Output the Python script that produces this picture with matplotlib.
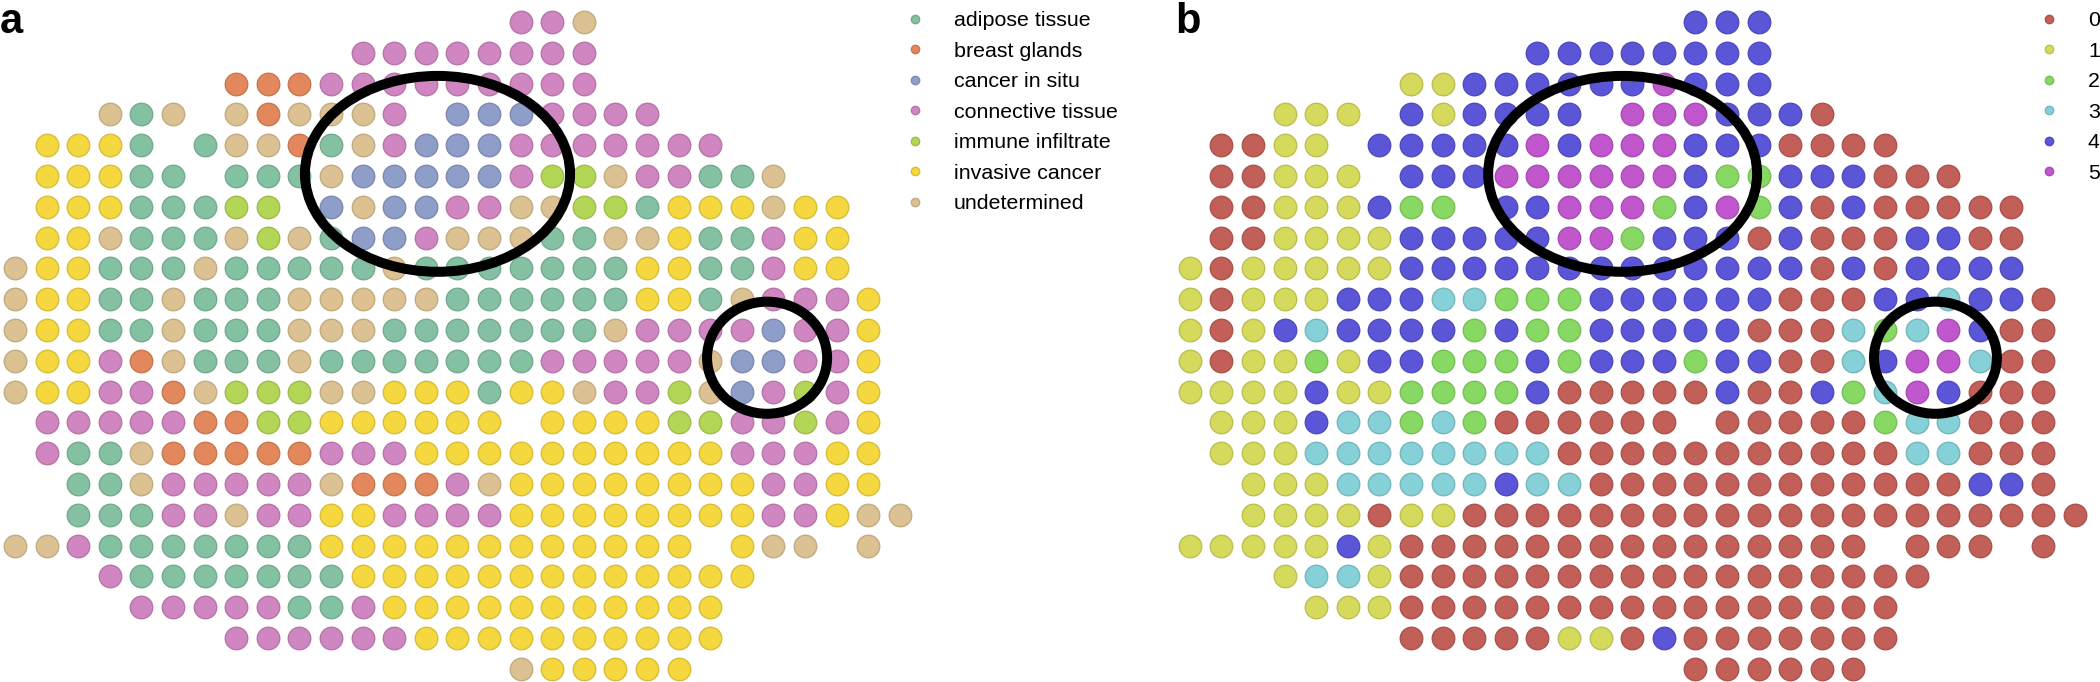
import matplotlib
matplotlib.use("Agg")
import matplotlib.pyplot as plt
import matplotlib.colors as mcolors
from matplotlib.patches import Ellipse
from matplotlib.lines import Line2D

plt.rcParams["font.family"] = ["Liberation Sans", "DejaVu Sans"]

# panel a: tissue annotation per spot (rows top to bottom, 29 columns)
tissue_codes = ["A", "B", "C", "N", "I", "V", "U"]
tissue_labels = ["adipose tissue", "breast glands", "cancer in situ",
                 "connective tissue", "immune infiltrate", "invasive cancer",
                 "undetermined"]
tissue_colors = ["#84c1a3", "#e3885c", "#8f9dc9", "#d086c0",
                 "#b3d657", "#f5d840", "#dcc292"]
tissue_rows = [
    "................NNU..........",
    "...........NNNNNNNN..........",
    ".......BBBNNNNNNNNN..........",
    "...UAU.UBUUUN.CCCNNNN........",
    ".VVVA.AUUBAUNCCCNNNNNNN......",
    ".VVVAA.AAAUCCCCCNIIUNNAAU....",
    ".VVVAAAII.CUCCNNUUIIAVVVUVV..",
    ".VVUAAAUIUACCNUUUAAUUVAANVV..",
    "UVVAAAUAAAAAUAAAAAAAVVAANVV..",
    "UVVAAUAAAUUUUUAAAAAAVVAUNNNV.",
    "UVVAAUAAAUUUAAAAAAAUNNNNCNNV.",
    "UVVNBUAAAUAAAAAAANNNNNUCCNNV.",
    "UVVNNBUIIIUUVVVAVVUNNIUCNINV.",
    ".NNNNNBBIIVVVVVV.VVVVIINNINV.",
    ".NAAUBBBBBNNNVVVVVVVVVVNNNVV.",
    "..AAUNNNNNUBBBNUVVVVVVVVNNVV.",
    "..AAANNUNNVVNNNNVVVVVVVVNNVUU",
    "UUNAAAAAAAVVVVVVVVVVVV.VUU.U.",
    "...NAAAAAAAVVVVVVVVVVVVV.....",
    "....NNNNNAANVVVVVVVVVVV......",
    ".......NNNNNNVVVVVVVVVV......",
    "................UVVVVV.......",
]

# panel b: cluster label per spot
cluster_codes = ["0", "1", "2", "3", "4", "5"]
cluster_labels = ["0", "1", "2", "3", "4", "5"]
cluster_colors = ["#c25f58", "#d5da5c", "#88d964", "#86d0d8", "#5b56d8", "#c057cc"]
cluster_rows = [
    "................444..........",
    "...........44444444..........",
    ".......114444445444..........",
    "...111.414444.5554440........",
    ".0011.44444545554440000......",
    ".00111.444555555422444000....",
    ".00111422.44555245240400000..",
    ".00111144444552444040004400..",
    "101111144444444444440404444..",
    "1011144433222444444000443440.",
    "1014344442422444440003235400.",
    "1011214422242444244003455300.",
    "1111411222240000040042354000.",
    ".111433232000000.00000233000.",
    ".111333333330000000000033000.",
    "..11133333433000000000000440.",
    "..111101100000000000000000000",
    "1111141000000000000000.000.0.",
    "...133100000000000000000.....",
    "....1110000000000000000......",
    ".......0000011040000000......",
    "................000000.......",
]

# circled regions: (col, row, width, height) in grid units
ellipses_a = [(13.37, 4.93, 8.39, 6.36), (23.8, 10.9, 3.8, 3.64)]
ellipses_b = [(13.7, 4.93, 8.51, 6.36), (23.6, 10.9, 3.89, 3.64)]

W, H = 2100, 682
DX, DY = 31.6, 30.8
ROW0 = 22

for rows in (tissue_rows, cluster_rows):
    for i, r in enumerate(rows):
        assert len(r) == 29, (i, r, len(r))

fig = plt.figure(figsize=(W / 100, H / 100), dpi=100)


def darker(c, f=0.88):
    r, g, b = mcolors.to_rgb(c)
    return (r * f, g * f, b * f)


def draw_panel(px_left, px_right, col0, rows, codes, colors, ellipses):
    ax = fig.add_axes([px_left / W, 0, (px_right - px_left) / W, 1])
    ax.set_xlim((px_left - col0) / DX, (px_right - col0) / DX)
    ax.set_ylim((H - ROW0) / DY, -ROW0 / DY)
    ax.axis("off")
    for code, color in zip(codes, colors):
        xs, ys = [], []
        for r, line in enumerate(rows):
            for c, ch in enumerate(line):
                if ch == code:
                    xs.append(c)
                    ys.append(r)
        ax.scatter(xs, ys, s=262, color=color, edgecolors=[darker(color)],
                   linewidths=1.0, zorder=2)
    for cx, cy, w, h in ellipses:
        ax.add_patch(Ellipse((cx, cy), w, h, fill=False, edgecolor="black",
                             linewidth=7.2, zorder=3))
    return ax


draw_panel(0, 940, 15, tissue_rows, tissue_codes, tissue_colors, ellipses_a)
draw_panel(1160, 2100, 1189.7, cluster_rows, cluster_codes, cluster_colors, ellipses_b)


def add_legend(labels, colors, x0):
    handles = [Line2D([], [], marker="o", linestyle="", markersize=6,
                      markerfacecolor=c, markeredgecolor=darker(c))
               for c in colors]
    fig.legend(handles, labels, loc="upper left",
               bbox_to_anchor=(x0 / W, (H - 11) / H), frameon=False,
               fontsize=15.4, handlelength=0.8, handletextpad=1.42,
               labelspacing=0.54, borderpad=0, borderaxespad=0)


add_legend(tissue_labels, tissue_colors, 906.5)
add_legend(cluster_labels, cluster_colors, 2040.5)

fig.text(0, (H - 33) / H, "a", fontsize=30, fontweight="bold", va="baseline")
fig.text(1175 / W, (H - 33) / H, "b", fontsize=30, fontweight="bold", va="baseline")

fig.savefig("out.png", dpi=100)
